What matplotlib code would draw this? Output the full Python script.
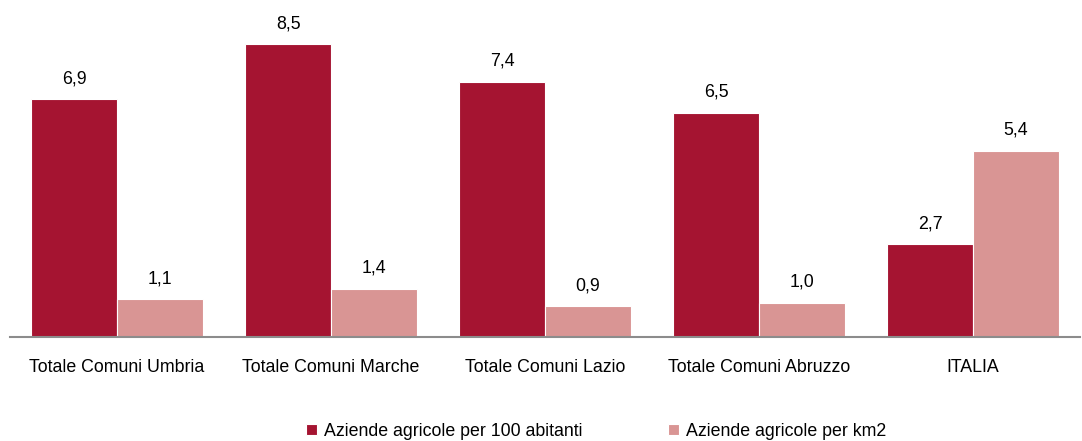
import numpy as np
import matplotlib.pyplot as plt

categorie = ['Totale Comuni Umbria', 'Totale Comuni Marche', 'Totale Comuni Lazio',
             'Totale Comuni Abruzzo', 'ITALIA']
per_abitanti = [6.9, 8.5, 7.4, 6.5, 2.7]
per_km2 = [1.1, 1.4, 0.9, 1.0, 5.4]
serie_nomi = ['Aziende agricole per 100 abitanti', 'Aziende agricole per km2']

plt.rcParams['font.family'] = ['Liberation Sans', 'DejaVu Sans']
fs = 12.8

fig = plt.figure(figsize=(10.82, 4.41), dpi=100)
ax = fig.add_axes([10 / 1082, 104 / 441, 1070 / 1082, 337 / 441])

x = np.arange(len(categorie))
w = 0.4
b1 = ax.bar(x - w / 2, per_abitanti, w, color='#A51431', edgecolor='white', linewidth=0.8,
            label=serie_nomi[0])
b2 = ax.bar(x + w / 2, per_km2, w, color='#D99594', edgecolor='white', linewidth=0.8,
            label=serie_nomi[1])

for bars, vals in ((b1, per_abitanti), (b2, per_km2)):
    for r, v in zip(bars, vals):
        ax.annotate(f'{v:.1f}'.replace('.', ','), (r.get_x() + r.get_width() / 2, v),
                    xytext=(0, 8.5), textcoords='offset points',
                    ha='center', va='bottom', fontsize=fs)

ax.set_xlim(-0.5, 4.5)
ax.set_ylim(0, 9.77)
ax.set_xticks(x)
ax.set_xticklabels(categorie, fontsize=fs)
ax.tick_params(axis='x', length=0, pad=16)
ax.set_yticks([])
for s in ['top', 'right', 'left']:
    ax.spines[s].set_visible(False)
ax.spines['bottom'].set_color('#8c8c8c')
ax.spines['bottom'].set_linewidth(1.5)

fig.legend(handles=[b1, b2], loc='center', bbox_to_anchor=(0.551, 0.022), ncol=2,
           frameon=False, fontsize=fs, handlelength=0.6, handleheight=0.6,
           handletextpad=0.4, columnspacing=4.8)

fig.savefig('out.png', dpi=100)
